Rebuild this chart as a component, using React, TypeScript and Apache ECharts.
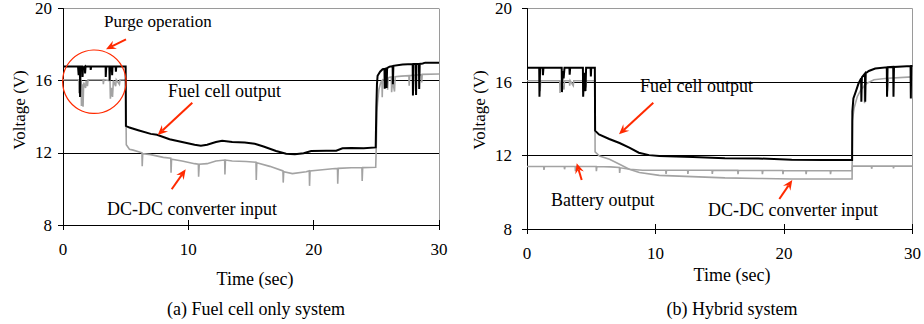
import React, { useEffect, useRef } from "react";
import * as echarts from "echarts";

// ---------- tick values ----------
const timeTicks = [0, 10, 20, 30];
const voltTicks = [8, 12, 16, 20];

// ---------- (a) Fuel cell only system ----------
const fcOutA: [number, number][] = [
  [0, 16.78], [1.2, 16.78], [1.25, 16.3], [1.28, 16.78], [1.35, 16.78], [1.36, 15.1], [1.4, 16.78],
  [1.55, 16.78], [1.56, 16.2], [1.6, 16.7], [1.75, 16.78], [1.76, 16.4], [1.8, 16.78], [2.2, 16.78],
  [2.21, 16.6], [2.25, 16.78], [3.4, 16.78], [3.41, 16.2], [3.45, 16.78], [3.7, 16.78], [3.72, 16.0],
  [3.76, 16.78], [3.9, 16.78], [3.92, 16.3], [3.95, 16.78], [4.2, 16.78], [4.22, 16.5], [4.25, 16.78],
  [5.0, 16.78],
  [5.02, 13.5], [5.3, 13.4], [6, 13.25], [7, 13.05], [7.5, 13.0], [8.5, 12.75], [9.5, 12.6],
  [10.5, 12.45], [11, 12.4], [11.5, 12.45], [12.2, 12.6], [12.7, 12.67], [13.5, 12.6], [14.5, 12.57],
  [15.3, 12.5], [16, 12.35], [17, 12.1], [17.8, 11.95], [18.5, 11.92], [19.2, 11.98], [19.8, 12.1],
  [21, 12.12], [21.8, 12.12], [22.3, 12.25], [23, 12.27], [24, 12.25], [24.95, 12.3],
  [25.0, 14.5], [25.05, 15.8], [25.1, 16.27], [25.3, 16.5], [25.5, 16.63], [25.65, 16.65],
  [25.67, 15.55], [25.72, 16.66], [25.8, 16.68], [25.82, 15.6], [25.86, 16.7], [26.05, 16.78],
  [26.3, 16.8], [26.32, 15.8], [26.36, 16.82], [27.1, 16.89], [27.9, 16.92], [27.92, 15.18],
  [27.96, 16.92], [28.15, 16.92], [28.17, 15.2], [28.2, 16.92], [28.4, 16.92], [28.42, 15.54],
  [28.46, 16.93], [28.7, 16.95], [28.9, 17.0], [30, 17.0],
];

const dcInA: [number, number][] = [
  [0, 16.05], [1.25, 16.05], [1.27, 15.3], [1.3, 16.0], [1.45, 16.0], [1.47, 14.6], [1.52, 15.8],
  [1.6, 14.55], [1.65, 15.9], [1.8, 15.6], [1.85, 16.0], [1.95, 15.7], [2.0, 16.05], [3.2, 16.05],
  [3.22, 15.8], [3.26, 16.05], [3.75, 16.0], [3.78, 15.0], [3.85, 15.6], [3.95, 15.1], [4.02, 16.0],
  [4.2, 15.7], [4.25, 16.05], [4.5, 15.8], [4.55, 16.05], [5.0, 16.05],
  [5.05, 12.45], [5.3, 12.2], [5.6, 12.15], [6.3, 12.0], [6.32, 11.26], [6.36, 11.95], [7, 11.9],
  [8, 11.75], [8.6, 11.7], [8.62, 10.9], [8.66, 11.65], [9.5, 11.55], [10.5, 11.4], [10.8, 11.37],
  [10.82, 10.68], [10.87, 11.37], [11.5, 11.4], [12.2, 11.55], [12.9, 11.6], [12.92, 10.8],
  [12.96, 11.6], [13.5, 11.55], [14.6, 11.52], [15.4, 11.48], [15.42, 10.5], [15.46, 11.45],
  [16.5, 11.25], [17.55, 11.0], [17.57, 10.35], [17.61, 10.95], [18.3, 10.85], [19.4, 10.95],
  [19.65, 11.0], [19.67, 10.17], [19.71, 11.0], [20.5, 11.05], [21.5, 11.12], [21.9, 11.14],
  [21.92, 10.29], [21.96, 11.14], [23, 11.17], [23.85, 11.18], [23.87, 10.44], [23.91, 11.18],
  [24.95, 11.2],
  [25.0, 12.5], [25.05, 14.3], [25.1, 14.8], [25.2, 15.5], [25.35, 15.9], [25.45, 16.0],
  [25.47, 15.08], [25.5, 16.0], [25.8, 16.15], [25.9, 15.5], [25.95, 16.17], [26.2, 16.2],
  [26.22, 15.36], [26.3, 16.0], [26.45, 15.4], [26.5, 16.22], [27, 16.25], [27.6, 16.28],
  [27.62, 15.72], [27.66, 16.28], [27.95, 16.3], [27.97, 15.45], [28.0, 16.3], [28.6, 16.33],
  [28.62, 15.9], [28.66, 16.35], [30, 16.37],
];

// ---------- (b) Hybrid system ----------
const fcOutB: [number, number][] = [
  [0, 16.78], [0.95, 16.78], [0.97, 15.2], [1.02, 16.78], [1.22, 16.78], [1.24, 16.37], [1.28, 16.78],
  [2.7, 16.78], [2.72, 15.45], [2.78, 16.6], [2.85, 16.2], [2.92, 16.78], [3.3, 16.78], [3.32, 16.4],
  [3.36, 16.78], [4.35, 16.78], [4.37, 15.2], [4.45, 16.5], [4.55, 15.5], [4.6, 16.78], [4.95, 16.78],
  [4.97, 16.3], [5.0, 16.78], [5.28, 16.78],
  [5.3, 13.35], [5.6, 13.15], [6.4, 12.9], [7.2, 12.68], [8, 12.42], [8.7, 12.15], [9.5, 12.02],
  [10.3, 11.97], [12.9, 11.92], [15.4, 11.85], [18, 11.84], [20.6, 11.77], [23.2, 11.75], [25.3, 11.75],
  [25.32, 14.4], [25.4, 15.1], [25.6, 15.5], [25.8, 15.92], [26.0, 16.2], [26.02, 14.93], [26.06, 16.25],
  [26.3, 16.46], [26.32, 14.93], [26.36, 16.48], [26.6, 16.6], [27.1, 16.73], [28.0, 16.8],
  [28.02, 15.2], [28.06, 16.8], [28.5, 16.82], [28.52, 15.2], [28.56, 16.82], [29.85, 16.87],
  [29.87, 15.1], [29.9, 16.87], [30, 16.87],
];

const dcInB: [number, number][] = [
  [0, 16.07], [1.0, 16.07], [1.02, 15.5], [1.06, 16.07], [2.55, 16.07], [2.57, 15.4], [2.62, 16.0],
  [2.88, 15.6], [2.92, 16.07], [3.3, 16.07], [3.32, 15.8], [3.36, 16.07], [3.6, 15.8], [3.64, 16.07],
  [4.35, 16.07], [4.37, 15.45], [4.42, 16.0], [4.58, 15.7], [4.62, 16.07], [5.28, 16.07],
  [5.3, 12.2], [5.64, 11.97], [6.42, 11.79], [7.2, 11.52], [7.96, 11.25], [8.74, 11.07],
  [10.3, 10.92], [12.85, 10.85], [15.4, 10.78], [18, 10.75], [20.6, 10.72], [25.3, 10.72],
  [25.32, 13.9], [25.45, 14.57], [25.7, 15.2], [26.0, 15.6], [26.25, 15.8], [26.27, 14.84],
  [26.32, 15.85], [26.5, 15.95], [27.0, 16.12], [28.0, 16.2], [28.05, 15.5], [28.12, 16.2], [30, 16.28],
];

const batOutB: [number, number][] = [
  [0, 11.4], [1.3, 11.4], [1.32, 11.22], [1.36, 11.4], [2.9, 11.4], [2.92, 11.25], [2.96, 11.4],
  [3.75, 11.4], [3.77, 11.15], [3.81, 11.4], [5.0, 11.4], [5.38, 11.4], [5.4, 11.15], [5.44, 11.4],
  [6.5, 11.38], [7.19, 11.35], [7.21, 11.05], [7.25, 11.33], [8, 11.25], [9, 11.2], [10.8, 11.2],
  [10.82, 11.0], [10.86, 11.2], [12.5, 11.2], [12.52, 11.0], [12.56, 11.2], [14.4, 11.2],
  [14.42, 11.0], [14.46, 11.2], [16.4, 11.19], [16.42, 10.98], [16.46, 11.19], [18.3, 11.18],
  [18.32, 10.98], [18.36, 11.18], [19.9, 11.18], [19.92, 10.98], [19.96, 11.18], [21.7, 11.17],
  [21.72, 10.98], [21.76, 11.17], [23.6, 11.17], [23.62, 10.98], [23.66, 11.17], [25.3, 11.17],
  [25.32, 11.42], [26.8, 11.42], [26.82, 11.28], [26.86, 11.42], [28.5, 11.42], [28.52, 11.3],
  [28.56, 11.42], [30, 11.42],
];

// ---------- styling ----------
const FONT = "Liberation Serif";
const RED = "#ff2a00";
const GRAY = "#a3a3a3";
const BORDER = "#9a9a9a";

function xAxesFor(gridIndex: number) {
  const base = {
    type: "value" as const,
    gridIndex,
    min: timeTicks[0],
    max: timeTicks[timeTicks.length - 1],
    interval: timeTicks[1] - timeTicks[0],
    position: "bottom" as const,
  };
  return [
    {
      ...base,
      axisLine: { show: true, onZero: false, lineStyle: { color: "#000", width: 1 } },
      axisTick: { show: true, inside: false, length: 5, lineStyle: { color: "#000", width: 1 } },
      axisLabel: { show: true, margin: 16, fontFamily: FONT, fontSize: 17, color: "#000" },
      splitLine: {
        show: true,
        lineStyle: { color: ["transparent", "transparent", "transparent", BORDER], width: 1 },
      },
    },
    {
      ...base,
      axisLine: { show: false },
      axisTick: { show: true, inside: true, length: 5, lineStyle: { color: "#000", width: 1 } },
      axisLabel: { show: false },
      splitLine: { show: false },
    },
  ];
}

function yAxisFor(gridIndex: number, margin: number) {
  return {
    type: "value" as const,
    gridIndex,
    min: voltTicks[0],
    max: voltTicks[voltTicks.length - 1],
    interval: voltTicks[1] - voltTicks[0],
    axisLine: { show: true, onZero: false, lineStyle: { color: "#000", width: 1 } },
    axisTick: { show: true, inside: false, length: 5, lineStyle: { color: "#000", width: 1 } },
    axisLabel: { show: true, margin, fontFamily: FONT, fontSize: 17, color: "#000" },
    splitLine: {
      show: true,
      lineStyle: { color: ["#000", "#000", "#000", BORDER], width: 1 },
    },
  };
}

function lineSeries(data: [number, number][], xi: number, yi: number, color: string, width: number, z: number) {
  return {
    type: "line" as const,
    data,
    xAxisIndex: xi,
    yAxisIndex: yi,
    showSymbol: false,
    symbol: "none",
    silent: true,
    z,
    lineStyle: { color, width, join: "miter" as const },
  };
}

function txt(x: number, y: number, text: string, align: string, size = 17, rotation = 0) {
  return {
    type: "text",
    x,
    y,
    rotation,
    silent: true,
    z: 100,
    style: {
      text,
      fill: "#000",
      fontFamily: FONT,
      fontSize: size,
      textAlign: align,
      textVerticalAlign: "middle",
    },
  };
}

function arrow(x1: number, y1: number, x2: number, y2: number) {
  const dx = x2 - x1;
  const dy = y2 - y1;
  const L = Math.hypot(dx, dy);
  const ux = dx / L;
  const uy = dy / L;
  const px = -uy;
  const py = ux;
  const hl = 10;
  const hw = 4.5;
  const bx = x2 - ux * hl;
  const by = y2 - uy * hl;
  const nx = x2 - ux * hl * 0.65;
  const ny = y2 - uy * hl * 0.65;
  return [
    { type: "line", silent: true, z: 100, shape: { x1, y1, x2: nx, y2: ny }, style: { stroke: RED, lineWidth: 2 } },
    {
      type: "polygon",
      silent: true,
      z: 100,
      shape: { points: [[x2, y2], [bx + px * hw, by + py * hw], [nx, ny], [bx - px * hw, by - py * hw]] },
      style: { fill: RED },
    },
  ];
}

export default function App() {
  const ref = useRef<HTMLDivElement>(null);

  useEffect(() => {
    document.body.style.margin = "0";
    if (!ref.current) return;
    const chart = echarts.init(ref.current, null, { renderer: "svg" });

    const option = {
      animation: false,
      backgroundColor: "#fff",
      textStyle: { fontFamily: FONT },
      grid: [
        { left: 63, top: 5, width: 376, height: 220, containLabel: false },
        { left: 527, top: 6, width: 387, height: 223, containLabel: false },
      ],
      xAxis: [...xAxesFor(0), ...xAxesFor(1)],
      yAxis: [yAxisFor(0, 11), yAxisFor(1, 15)],
      series: [
        lineSeries(dcInA, 0, 0, GRAY, 1.6, 2),
        lineSeries(fcOutA, 0, 0, "#000", 2, 3),
        lineSeries(batOutB, 2, 1, GRAY, 1.6, 2),
        lineSeries(dcInB, 2, 1, GRAY, 1.6, 2),
        lineSeries(fcOutB, 2, 1, "#000", 2, 3),
      ],
      graphic: [
        // panel (a)
        txt(19, 110, "Voltage (V)", "center", 17, Math.PI / 2),
        txt(255, 279, "Time (sec)", "center", 18),
        txt(256, 309, "(a) Fuel cell only system", "center", 18),
        txt(104, 21, "Purge operation", "left", 17),
        txt(168, 91, "Fuel cell output", "left", 18),
        txt(107, 209, "DC-DC converter input", "left", 18),
        {
          type: "circle",
          silent: true,
          z: 100,
          shape: { cx: 94.3, cy: 81.7, r: 31.7 },
          style: { stroke: RED, lineWidth: 1.2, fill: "none" },
        },
        ...arrow(126, 39.3, 106, 49.3),
        ...arrow(192.3, 102.7, 157.7, 135),
        ...arrow(171.7, 189.3, 185.7, 169.3),
        // panel (b)
        txt(479, 110, "Voltage (V)", "center", 17, Math.PI / 2),
        txt(732, 275, "Time (sec)", "center", 18),
        txt(732, 309, "(b) Hybrid system", "center", 18),
        txt(640, 86, "Fuel cell output", "left", 18),
        txt(551, 200, "Battery output", "left", 18),
        txt(708, 210, "DC-DC converter input", "left", 18),
        ...arrow(653.3, 102.7, 619, 134.3),
        ...arrow(581.7, 180, 576.7, 163.3),
        ...arrow(779.3, 199, 792.3, 180),
      ],
    };

    chart.setOption(option as any);
    return () => chart.dispose();
  }, []);

  return <div ref={ref} style={{ width: 924, height: 324 }} />;
}
